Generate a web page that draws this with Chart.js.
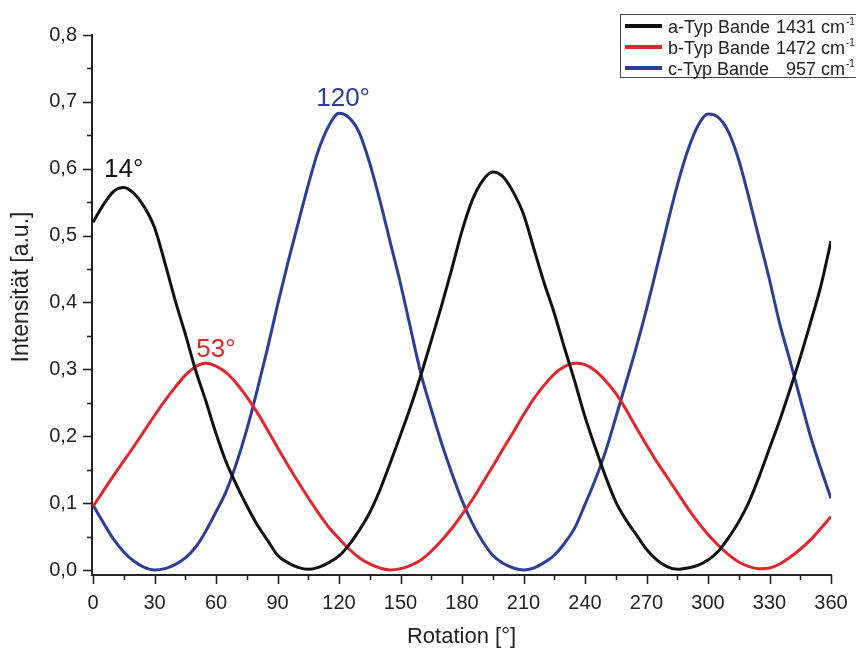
<!DOCTYPE html>
<html>
<head>
<meta charset="utf-8">
<script src="https://cdn.jsdelivr.net/npm/chart.js@4.4.1/dist/chart.umd.min.js"></script>
<style>
  html, body { margin: 0; padding: 0; background: #fff; }
  #wrap { width: 856px; height: 652px; }
</style>
</head>
<body>
<div id="wrap"><canvas id="polChart"></canvas></div>
<script>
// ── DATA ─────────────────────────────
const rotation = [0, 5, 10, 15, 20, 25, 30, 35, 40, 45, 50, 55, 60, 65, 70, 75, 80, 85, 90,
  95, 100, 105, 110, 115, 120, 125, 130, 135, 140, 145, 150, 155, 160, 165, 170, 175, 180,
  185, 190, 195, 200, 205, 210, 215, 220, 225, 230, 235, 240, 245, 250, 255, 260, 265, 270,
  275, 280, 285, 290, 295, 300, 305, 310, 315, 320, 325, 330, 335, 340, 345, 350, 355, 360];

const aTyp = [0.520, 0.546, 0.566, 0.572, 0.563, 0.543, 0.512, 0.460, 0.404, 0.353, 0.299, 0.253, 0.204,
  0.161, 0.127, 0.096, 0.068, 0.045, 0.022, 0.011, 0.004, 0.001, 0.004, 0.011, 0.021, 0.038, 0.060,
  0.086, 0.120, 0.160, 0.202, 0.245, 0.292, 0.343, 0.395, 0.450, 0.507, 0.553, 0.582, 0.595, 0.588,
  0.565, 0.532, 0.481, 0.430, 0.384, 0.332, 0.282, 0.229, 0.183, 0.140, 0.102, 0.075, 0.053, 0.031,
  0.015, 0.005, 0.001, 0.003, 0.007, 0.015, 0.028, 0.048, 0.072, 0.102, 0.140, 0.182, 0.224, 0.270,
  0.318, 0.370, 0.424, 0.492];

const bTyp = [0.095, 0.118, 0.141, 0.163, 0.185, 0.208, 0.231, 0.253, 0.273, 0.291, 0.304, 0.309, 0.305,
  0.295, 0.279, 0.259, 0.236, 0.210, 0.183, 0.157, 0.132, 0.108, 0.085, 0.064, 0.047, 0.031, 0.018,
  0.009, 0.003, 0.000, 0.002, 0.007, 0.015, 0.028, 0.044, 0.062, 0.083, 0.105, 0.130, 0.155, 0.181,
  0.206, 0.232, 0.256, 0.276, 0.293, 0.304, 0.309, 0.307, 0.298, 0.283, 0.264, 0.240, 0.213, 0.187,
  0.162, 0.139, 0.116, 0.093, 0.072, 0.053, 0.037, 0.023, 0.012, 0.005, 0.002, 0.003, 0.009, 0.019,
  0.031, 0.045, 0.062, 0.080];

const cTyp = [0.097, 0.071, 0.046, 0.027, 0.013, 0.004, 0.000, 0.002, 0.008, 0.018, 0.034, 0.058, 0.087,
  0.118, 0.160, 0.210, 0.268, 0.330, 0.396, 0.459, 0.518, 0.576, 0.628, 0.664, 0.683, 0.676, 0.653,
  0.608, 0.552, 0.490, 0.428, 0.360, 0.293, 0.240, 0.190, 0.145, 0.104, 0.070, 0.043, 0.022, 0.010,
  0.003, 0.000, 0.003, 0.011, 0.022, 0.040, 0.063, 0.098, 0.135, 0.177, 0.228, 0.280, 0.333, 0.390,
  0.452, 0.515, 0.575, 0.626, 0.664, 0.682, 0.677, 0.655, 0.613, 0.556, 0.495, 0.434, 0.368, 0.313,
  0.256, 0.200, 0.152, 0.107];

const seriesNames = ["a-Typ Bande ", "b-Typ Bande ", "c-Typ Bande "];
const seriesBands = ["1431", "1472", "957"];
const seriesColors = ["#111111", "#e3262d", "#2c3f98"];

const xTickValues = [0, 30, 60, 90, 120, 150, 180, 210, 240, 270, 300, 330, 360];
const yTickValues = [0, 0.1, 0.2, 0.3, 0.4, 0.5, 0.6, 0.7, 0.8];

// peak annotations (data coordinates of the text centre / baseline)
const peakTexts = ["14°", "53°", "120°"];
const peakAt = [[15, 0.588], [60, 0.319], [122, 0.694]];

const FONT = "'Liberation Sans', Arial, sans-serif";
const INK = "#222222";

// ── HELPERS ─────────────────────────────
function toPoints(values) {
  return values.map((v, i) => ({ x: rotation[i], y: v }));
}

function decimalComma(v) {
  return v.toFixed(1).replace(".", ",");
}

// ticks, y title, peak labels and legend
const decorPlugin = {
  id: "decor",
  beforeDraw(chart) {
    const ctx = chart.ctx;
    ctx.save();
    ctx.fillStyle = "#fff";
    ctx.fillRect(0, 0, chart.width, chart.height);
    ctx.restore();
  },
  afterDraw(chart) {
    const { ctx, chartArea, scales } = chart;
    const xs = scales.x, ys = scales.y;
    ctx.save();

    // tick marks (outside)
    ctx.strokeStyle = INK;
    ctx.lineWidth = 1.6;
    const base = chartArea.bottom;
    for (let v = 0; v <= 360; v += 15) {
      const px = Math.round(xs.getPixelForValue(v)) + 0.5;
      const len = v % 30 === 0 ? 9 : 5;
      ctx.beginPath();
      ctx.moveTo(px, base);
      ctx.lineTo(px, base + len);
      ctx.stroke();
    }
    const left = chartArea.left;
    for (let i = 0; i <= 16; i++) {
      const v = i * 0.05;
      const py = Math.round(ys.getPixelForValue(v)) + 0.5;
      const len = i % 2 === 0 ? 9 : 5;
      ctx.beginPath();
      ctx.moveTo(left, py);
      ctx.lineTo(left - len, py);
      ctx.stroke();
    }

    // y title
    ctx.fillStyle = INK;
    ctx.font = "23px " + FONT;
    ctx.textAlign = "center";
    ctx.textBaseline = "middle";
    ctx.translate(22, 287);
    ctx.rotate(-Math.PI / 2);
    ctx.fillText("Intensität [a.u.]", 0, 0);
    ctx.setTransform(1, 0, 0, 1, 0, 0);

    // peak labels
    ctx.font = "26px " + FONT;
    ctx.textBaseline = "alphabetic";
    peakTexts.forEach((t, i) => {
      ctx.fillStyle = seriesColors[i];
      ctx.fillText(t, xs.getPixelForValue(peakAt[i][0]), ys.getPixelForValue(peakAt[i][1]));
    });

    // legend box
    ctx.strokeStyle = "#444";
    ctx.lineWidth = 1;
    ctx.strokeRect(620.5, 14.5, 260, 63);
    ctx.textAlign = "left";
    seriesNames.forEach((name, i) => {
      const ly = 26 + i * 21;
      ctx.strokeStyle = seriesColors[i];
      ctx.lineWidth = 4;
      ctx.beginPath();
      ctx.moveTo(625, ly);
      ctx.lineTo(662, ly);
      ctx.stroke();

      ctx.fillStyle = INK;
      ctx.font = "18px " + FONT;
      ctx.textAlign = "left";
      ctx.fillText(name, 668, ly + 7);
      ctx.textAlign = "right";
      ctx.fillText(seriesBands[i], 816, ly + 7);
      ctx.textAlign = "left";
      ctx.fillText(" cm", 816, ly + 7);
      const w = ctx.measureText(" cm").width;
      ctx.font = "10px " + FONT;
      ctx.fillText("-1", 816 + w + 1, ly - 1);
    });

    ctx.restore();
  }
};

// ── CHART ─────────────────────────────
const datasets = [aTyp, bTyp, cTyp].map((vals, i) => ({
  label: seriesNames[i] + seriesBands[i] + " cm-1",
  data: toPoints(vals),
  borderColor: seriesColors[i],
  borderWidth: 3,
  pointRadius: 0,
  cubicInterpolationMode: "monotone",
  fill: false
}));

new Chart(document.getElementById("polChart").getContext("2d"), {
  type: "line",
  data: { datasets },
  options: {
    responsive: true,
    maintainAspectRatio: false,
    animation: false,
    devicePixelRatio: 1,
    layout: { padding: { left: 0, top: 35, right: 25, bottom: 0 } },
    plugins: {
      legend: { display: false },
      tooltip: { enabled: false }
    },
    scales: {
      x: {
        type: "linear",
        min: -0.5,
        max: 360,
        afterBuildTicks: s => { s.ticks = xTickValues.map(v => ({ value: v })); },
        afterFit: s => { s.height = 77; s.paddingLeft = 0; s.paddingRight = 0; },
        grid: { display: false, drawTicks: false },
        border: { display: true, color: INK, width: 2 },
        ticks: {
          autoSkip: false,
          maxRotation: 0,
          padding: 16,
          color: INK,
          font: { family: FONT, size: 20 }
        },
        title: {
          display: true,
          text: "Rotation [°]",
          color: INK,
          font: { family: FONT, size: 22 },
          padding: { top: 0, bottom: 2 }
        }
      },
      y: {
        min: -0.0075,
        max: 0.8,
        afterBuildTicks: s => { s.ticks = yTickValues.map(v => ({ value: v })); },
        afterFit: s => { s.width = 92; },
        grid: { display: false, drawTicks: false },
        border: { display: true, color: INK, width: 2 },
        ticks: {
          padding: 15,
          color: INK,
          font: { family: FONT, size: 20 },
          callback: v => decimalComma(v)
        }
      }
    }
  },
  plugins: [decorPlugin]
});
</script>
</body>
</html>
